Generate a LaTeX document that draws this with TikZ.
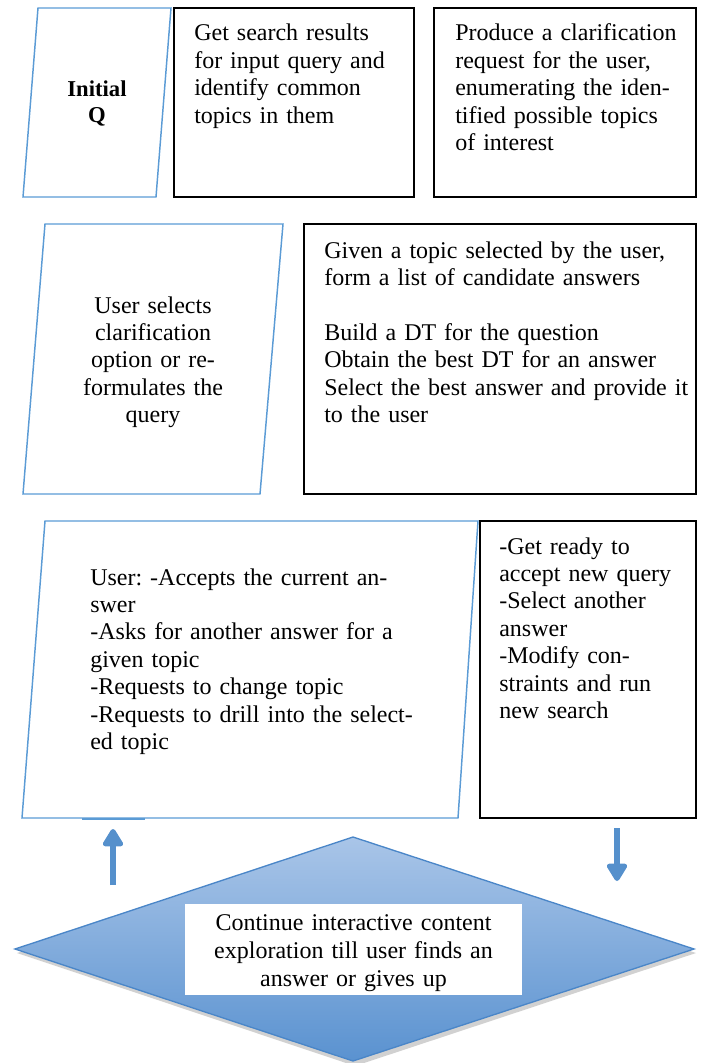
\documentclass[tikz,border=0pt]{standalone}
\usepackage{fontspec}
\setmainfont{Liberation Serif}
\usetikzlibrary{arrows.meta}
\frenchspacing

\definecolor{lineblue}{HTML}{5B9BD5}
\definecolor{arrowblue}{HTML}{5590CC}
\definecolor{dtop}{HTML}{A9C5E8}
\definecolor{dbot}{HTML}{5A92D0}
\definecolor{dedge}{HTML}{4A86C8}

\begin{document}
\begin{tikzpicture}[x=0.75pt, y=-0.75pt,
    font=\fontsize{18}{20.6}\selectfont,
    para/.style={draw=lineblue, line width=1.1pt},
    box/.style={draw=black, line width=1.5pt},
    txt/.style={inner sep=0pt, anchor=base west, align=left, text width=#1},
    ctxt/.style={inner sep=0pt, anchor=base, align=center, text width=#1},
    bigarrow/.style={draw=arrowblue, line width=3.8pt, -{Triangle[width=17pt, length=15pt, round]}}]
  \useasboundingbox (0,0) rectangle (705,1063);
  \draw[para] (38,8) -- (171,8) -- (156,197) -- (23,197) -- cycle;
  \draw[box] (174,8) rectangle (414,197);
  \draw[box] (434,8) rectangle (696,197);
  \draw[para] (45,224) -- (283,224) -- (260,494) -- (23,494) -- cycle;
  \draw[box] (304,224) rectangle (696,494);
  \draw[para] (45,521) -- (478,521) -- (458,818) -- (22,818) -- cycle;
  \draw[box] (480,521) rectangle (696,818);
  \draw[lineblue, line width=2pt] (82,819) -- (145,819);

  \fill[black, opacity=0.18] (355,841) -- (696,953) -- (355,1066) -- (17,953) -- cycle;
  \shade[top color=dtop, bottom color=dbot] (353,837) -- (694,949) -- (353,1061) -- (15,949) -- cycle;
  \draw[dedge, line width=1pt] (353,837) -- (694,949) -- (353,1061) -- (15,949) -- cycle;
  \fill[white] (185,904) rectangle (522,995);

  \node[ctxt=80pt, font=\bfseries\fontsize{17}{20}\selectfont] (initq) at (97,96) {Initial\\Q};
  \node[txt=230pt] (search) at (194,41) {Get search results\\for input query and\\identify common\\topics in them};
  \node[txt=190pt] (clarify) at (455,41) {Produce a clarification\\request for the user,\\enumerating the iden-\\tified possible topics\\of interest};
  \node[ctxt=170pt] (choose) at (153,313) {User selects\\clarification\\option or re-\\formulates the\\query};
  \node[txt=360pt] (answer) at (324,258) {Given a topic selected by the user,\\form a list of candidate answers\\[20.6pt]Build a DT for the question\\Obtain the best DT for an answer\\Select the best answer and provide it\\to the user};
  \node[txt=330pt] (feedback) at (90,585) {User: -Accepts the current an-\\swer\\-Asks for another answer for a\\given topic\\-Requests to change topic\\-Requests to drill into the select-\\ed topic};
  \node[txt=160pt] (next) at (499,554) {-Get ready to\\accept new query\\-Select another\\answer\\-Modify con-\\straints and run\\new search};
  \node[ctxt=250pt, font=\fontsize{18}{21}\selectfont] (explore) at (353.5,930) {Continue interactive content\\exploration till user finds an\\answer or gives up};

  \coordinate (upfrom) at (113,885);
  \coordinate (upto) at (113,829);
  \coordinate (downfrom) at (617,828);
  \coordinate (downto) at (617,881);
  \draw[bigarrow] (upfrom) -- (upto);
  \draw[bigarrow] (downfrom) -- (downto);
\end{tikzpicture}
\end{document}
